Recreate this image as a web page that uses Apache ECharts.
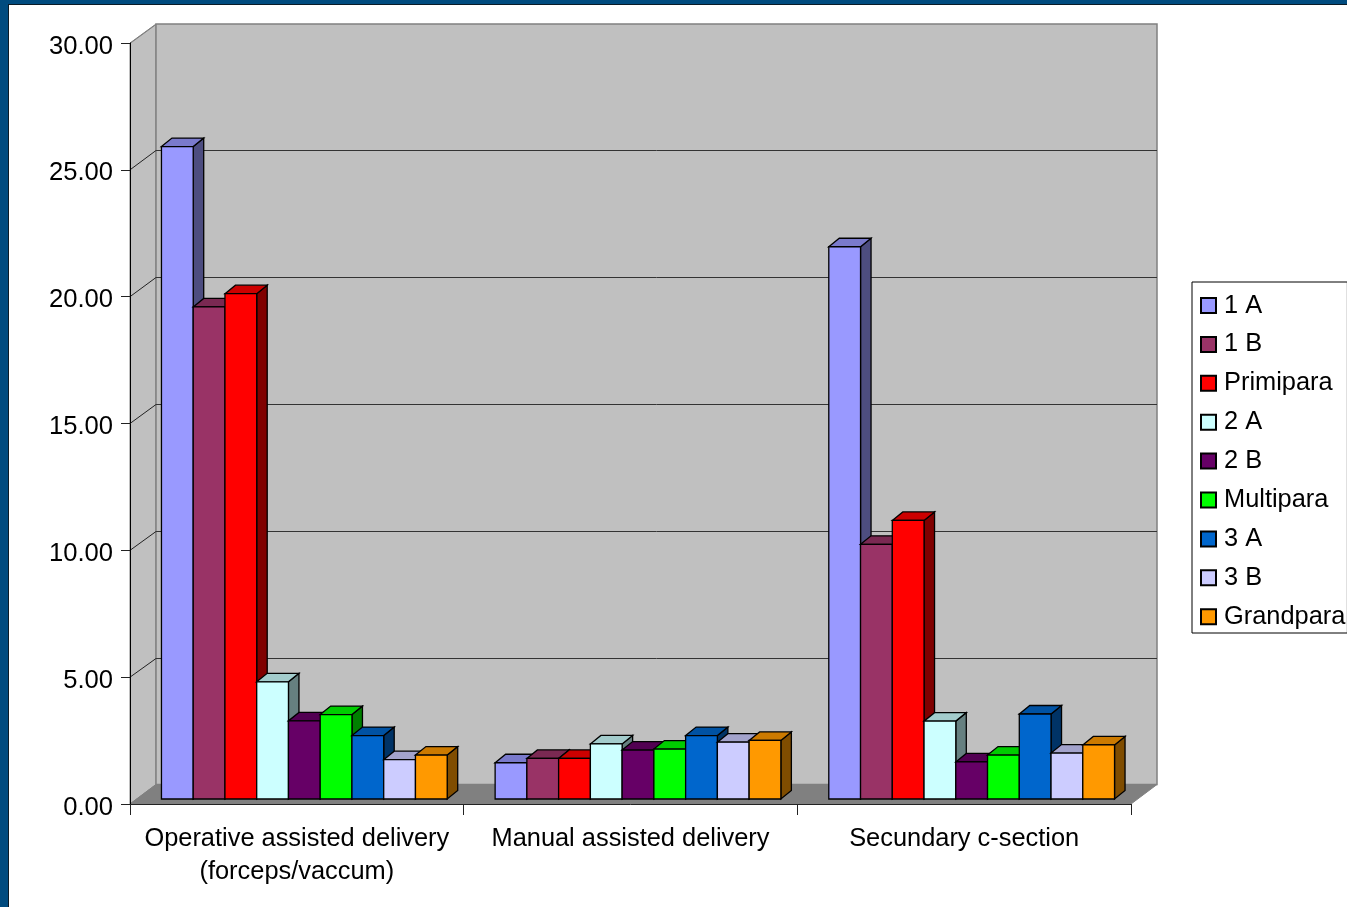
<!DOCTYPE html>
<html><head><meta charset="utf-8">
<script src="https://cdn.jsdelivr.net/npm/echarts@6/dist/echarts.min.js"></script>
<style>
html,body{margin:0;padding:0;width:1347px;height:907px;overflow:hidden;background:#004b7f}
#inner{position:absolute;left:8px;top:4px;width:1339px;height:903px;background:#fff;border-left:1px solid #0a1a26;border-top:1px solid #0a1a26;box-sizing:border-box}
#chart{position:absolute;left:0;top:0;width:1347px;height:907px}
</style></head><body>
<div id="inner"></div><div id="chart"></div>
<script>
const categories = ['Operative assisted delivery\n(forceps/vaccum)', 'Manual assisted delivery', 'Secundary c-section'];
const yTicks = [0, 5, 10, 15, 20, 25, 30];
const s1A = [25.72, 1.43, 21.77];
const s1B = [19.4, 1.6, 10.04];
const sPrimipara = [19.92, 1.6, 10.98];
const s2A = [4.62, 2.17, 3.07];
const s2B = [3.08, 1.93, 1.46];
const sMultipara = [3.33, 1.97, 1.73];
const s3A = [2.5, 2.5, 3.35];
const s3B = [1.55, 2.24, 1.81];
const sGrandpara = [1.73, 2.31, 2.13];
const seriesNames = ['1 A', '1 B', 'Primipara', '2 A', '2 B', 'Multipara', '3 A', '3 B', 'Grandpara'];
const seriesValues = [s1A, s1B, sPrimipara, s2A, s2B, sMultipara, s3A, s3B, sGrandpara];
const colors = ['#9999ff', '#993366', '#ff0000', '#ccffff', '#660066', '#00ff00', '#0066cc', '#ccccff', '#ff9900'];

const WALL_DX = 26, WALL_DY = -19.5;
const BAR_FRONT_DX = 7.5, BAR_FRONT_DY = -5;
const BAR_DEPTH_DX = 10.5, BAR_DEPTH_DY = -8.5;
const BAR_SHARE = 31.75 / 333.67;
const FONT = '"Liberation Sans", Arial, sans-serif';

function shade(hex, k) {
  const n = parseInt(hex.slice(1), 16);
  return 'rgb(' + [(n >> 16) & 255, (n >> 8) & 255, n & 255].map(c => Math.round(c * k)).join(',') + ')';
}
function poly(points, fill, stroke, lw) {
  return { type: 'polygon', shape: { points }, style: { fill, stroke, lineWidth: lw === undefined ? 1 : lw, lineJoin: 'miter' } };
}
function line(x1, y1, x2, y2, stroke, lw) {
  return { type: 'line', shape: { x1, y1, x2, y2 }, style: { stroke, lineWidth: lw === undefined ? 1 : lw } };
}
function wallItem(params, api) {
  const c = params.coordSys;
  const x0 = c.x, x1 = c.x + c.width, yT = c.y, yB = c.y + c.height;
  const d = [WALL_DX, WALL_DY];
  return { type: 'group', children: [
    poly([[x0, yT], [x0 + d[0], yT - 19], [x0 + d[0], yB + d[1]], [x0, yB]], '#c0c0c0', '#808080'),
    poly([[x0 + d[0], yT - 19], [x1 + d[0], yT - 19], [x1 + d[0], yB + d[1]], [x0 + d[0], yB + d[1]]], '#c0c0c0', '#808080', 1.5),
    poly([[x0, yB], [x1, yB], [x1 + d[0], yB + d[1]], [x0 + d[0], yB + d[1]]], '#808080', '#808080')
  ] };
}
function gridItem(params, api) {
  const c = params.coordSys;
  const v = api.value(1);
  if (v === 0 || v === 30) return { type: 'group', children: [
    line(c.x, Math.round(api.coord([0, v])[1]) + 0.5, c.x + WALL_DX, Math.round(api.coord([0, v])[1] + WALL_DY) + 0.5, '#808080')
  ] };
  const y = api.coord([0, v])[1];
  const by = Math.round(y + WALL_DY) + 0.5;
  return { type: 'group', children: [
    line(c.x, y, c.x + WALL_DX, by, '#222'),
    line(c.x + WALL_DX, by, c.x + c.width + WALL_DX, by, '#333')
  ] };
}
function barRenderer(si) {
  return function (params, api) {
    const cat = api.value(0), val = api.value(1);
    const band = api.size([1, 0])[0];
    const w = band * BAR_SHARE;
    const top = api.coord([cat, val]);
    const base = api.coord([cat, 0]);
    const x0 = top[0] + (si - 4.5) * w + BAR_FRONT_DX;
    const x1 = x0 + w;
    const yT = top[1] + BAR_FRONT_DY;
    const yB = base[1] + BAR_FRONT_DY;
    const c = colors[si];
    const dx = BAR_DEPTH_DX, dy = BAR_DEPTH_DY;
    return { type: 'group', children: [
      poly([[x1, yT], [x1 + dx, yT + dy], [x1 + dx, yB + dy], [x1, yB]], shade(c, 0.5), '#000', 1.3),
      poly([[x0, yT], [x0 + dx, yT + dy], [x1 + dx, yT + dy], [x1, yT]], shade(c, 0.8), '#000', 1.3),
      poly([[x0, yT], [x1, yT], [x1, yB], [x0, yB]], c, '#000', 1.3)
    ] };
  };
}
const bars = seriesNames.map((name, si) => ({
  name, type: 'custom', z: 5, clip: false, silent: true,
  renderItem: barRenderer(si),
  itemStyle: { color: colors[si], borderColor: '#000', borderWidth: 1 },
  encode: { x: 0, y: 1 },
  data: seriesValues[si].map((v, i) => [i, v])
}));
const option = {
  animation: false,
  backgroundColor: 'transparent',
  textStyle: { fontFamily: FONT },
  grid: { left: 130, top: 43, width: 1001, height: 761, containLabel: false },
  legend: {
    orient: 'vertical', left: 1192, top: 282,
    data: seriesNames.map(name => ({ name, icon: 'rect' })),
    itemWidth: 15, itemHeight: 15, itemGap: 9.9,
    padding: [9, 2, 1.8, 8],
    backgroundColor: '#fff', borderColor: '#000', borderWidth: 1,
    textStyle: { fontFamily: FONT, fontSize: 25.4, color: '#000', lineHeight: 25, padding: [4, 0, 0, 3] },
    selectedMode: false
  },
  xAxis: {
    type: 'category', data: categories, z: 10,
    axisLine: { lineStyle: { color: '#222', width: 1 } },
    axisTick: { show: true, alignWithLabel: false, length: 11, lineStyle: { color: '#222' } },
    axisLabel: { fontFamily: FONT, fontSize: 25.4, color: '#000', lineHeight: 33, margin: 18, interval: 0 },
    splitLine: { show: false }
  },
  yAxis: {
    type: 'value', min: 0, max: 30, interval: 5, z: 10,
    axisLine: { show: true, lineStyle: { color: '#000', width: 1 } },
    axisTick: { show: true, length: 9, lineStyle: { color: '#222' } },
    axisLabel: { fontFamily: FONT, fontSize: 25.6, color: '#000', margin: 17, verticalAlign: 'top', lineHeight: 7, formatter: v => v.toFixed(2) },
    splitLine: { show: false }
  },
  series: [
    { name: 'wall', type: 'custom', z: 1, clip: false, silent: true, renderItem: wallItem, encode: { x: 0, y: 1 }, data: [[0, 0]] },
    { name: 'gridlines', type: 'custom', z: 2, clip: false, silent: true, renderItem: gridItem, encode: { x: 0, y: 1 }, data: yTicks.map(v => [0, v]) }
  ].concat(bars)
};
const chart = echarts.init(document.getElementById('chart'), null, { renderer: 'canvas' });
chart.setOption(option);
</script>
</body></html>
